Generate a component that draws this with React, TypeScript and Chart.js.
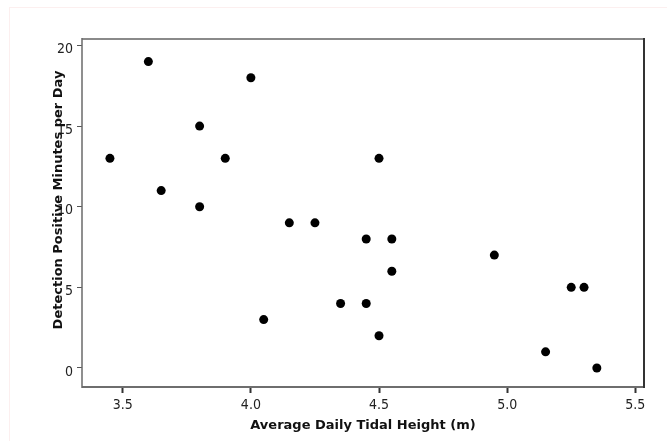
import React, { useEffect, useRef } from "react";
import { Chart, registerables } from "chart.js";

Chart.register(...registerables);

// Average daily tidal height (m) and detection positive minutes per day
const tidalHeight = [3.45, 3.6, 3.65, 3.8, 3.8, 3.9, 4.0, 4.05, 4.15, 4.25, 4.35, 4.45, 4.45, 4.5, 4.5, 4.55, 4.55, 4.95, 5.15, 5.25, 5.3, 5.35];
const detectionMinutes = [13, 19, 11, 15, 10, 13, 18, 3, 9, 9, 4, 8, 4, 13, 2, 8, 6, 7, 1, 5, 5, 0];

const xTicks = [3.5, 4.0, 4.5, 5.0, 5.5];
const yTicks = [0, 5, 10, 15, 20];

const xTitle = "Average Daily Tidal Height (m)";
const yTitle = "Detection Positive Minutes per Day";

const W = 667;
const H = 441;

const tickFont = { family: "'DejaVu Sans Condensed', 'DejaVu Sans', sans-serif", size: 14 };
const titleFont = "bold 13px 'DejaVu Sans', sans-serif";

// Frame around the plotting area plus the two axis titles
const framePlugin = {
  id: "frameAndTitles",
  afterDraw(chart: Chart) {
    const { ctx, chartArea } = chart;
    const { left, right, top, bottom } = chartArea;
    ctx.save();
    ctx.lineCap = "butt";
    // top
    ctx.strokeStyle = "#8a8a8a";
    ctx.lineWidth = 2;
    ctx.beginPath();
    ctx.moveTo(left, top);
    ctx.lineTo(right, top);
    ctx.stroke();
    // bottom
    ctx.strokeStyle = "#6e6e6e";
    ctx.beginPath();
    ctx.moveTo(left, bottom);
    ctx.lineTo(right + 1, bottom);
    ctx.stroke();
    // left
    ctx.strokeStyle = "#6a6a6a";
    ctx.lineWidth = 1.5;
    ctx.beginPath();
    ctx.moveTo(left, top - 1);
    ctx.lineTo(left, bottom + 1);
    ctx.stroke();
    // right
    ctx.strokeStyle = "#333333";
    ctx.lineWidth = 2;
    ctx.beginPath();
    ctx.moveTo(right, top - 1);
    ctx.lineTo(right, bottom + 1);
    ctx.stroke();

    ctx.fillStyle = "#111111";
    ctx.font = titleFont;
    ctx.textAlign = "center";
    ctx.textBaseline = "middle";
    ctx.fillText(xTitle, (left + right) / 2, 426);

    ctx.translate(59, 200);
    ctx.rotate(-Math.PI / 2);
    ctx.fillText(yTitle, 0, 0);
    ctx.restore();
  },
};

export default function App() {
  const canvasRef = useRef<HTMLCanvasElement | null>(null);

  useEffect(() => {
    const canvas = canvasRef.current;
    if (!canvas) return;
    const points = tidalHeight.map((x, i) => ({ x, y: detectionMinutes[i] }));

    const chart = new Chart(canvas, {
      type: "scatter",
      data: {
        datasets: [
          {
            data: points,
            backgroundColor: "#000000",
            borderColor: "#000000",
            pointRadius: 4.5,
            pointHoverRadius: 4.5,
            borderWidth: 0,
          },
        ],
      },
      options: {
        animation: false,
        responsive: false,
        devicePixelRatio: 1,
        events: [],
        layout: { padding: { top: 39, right: 23, left: 0, bottom: 0 } },
        plugins: {
          legend: { display: false },
          tooltip: { enabled: false },
        },
        scales: {
          x: {
            type: "linear",
            min: 3.341,
            max: 5.534,
            afterBuildTicks: (scale: any) => {
              scale.ticks = xTicks.map((v) => ({ value: v }));
            },
            afterFit: (scale: any) => {
              scale.height = 54;
            },
            border: { display: false },
            grid: {
              drawOnChartArea: false,
              drawTicks: true,
              tickLength: 6,
              tickWidth: 2,
              tickColor: "#333333",
            },
            ticks: {
              font: tickFont,
              color: "#222222",
              padding: 4,
              maxRotation: 0,
              autoSkip: false,
              callback: (v: any) => Number(v).toFixed(1),
            },
          },
          y: {
            type: "linear",
            min: -1.18,
            max: 20.4,
            afterBuildTicks: (scale: any) => {
              scale.ticks = yTicks.map((v) => ({ value: v }));
            },
            afterFit: (scale: any) => {
              scale.width = 82;
            },
            border: { display: false },
            grid: {
              drawOnChartArea: false,
              drawTicks: true,
              tickLength: 5,
              tickWidth: 1,
              tickColor: "#555555",
            },
            ticks: {
              font: tickFont,
              color: "#222222",
              padding: 4,
              labelOffset: 4,
              autoSkip: false,
              callback: (v: any) => String(v),
            },
          },
        },
      },
      plugins: [framePlugin],
    });

    return () => chart.destroy();
  }, []);

  return (
    <div style={{ position: "fixed", left: 0, top: 0, width: W, height: H, background: "#ffffff" }}>
      <div
        style={{
          position: "absolute",
          left: 9,
          top: 7,
          right: 0,
          bottom: 0,
          borderTop: "1px solid #fcefef",
          borderLeft: "1px solid #fcefef",
        }}
      />
      <canvas ref={canvasRef} width={W} height={H} style={{ position: "absolute", left: 0, top: 0, display: "block" }} />
    </div>
  );
}
